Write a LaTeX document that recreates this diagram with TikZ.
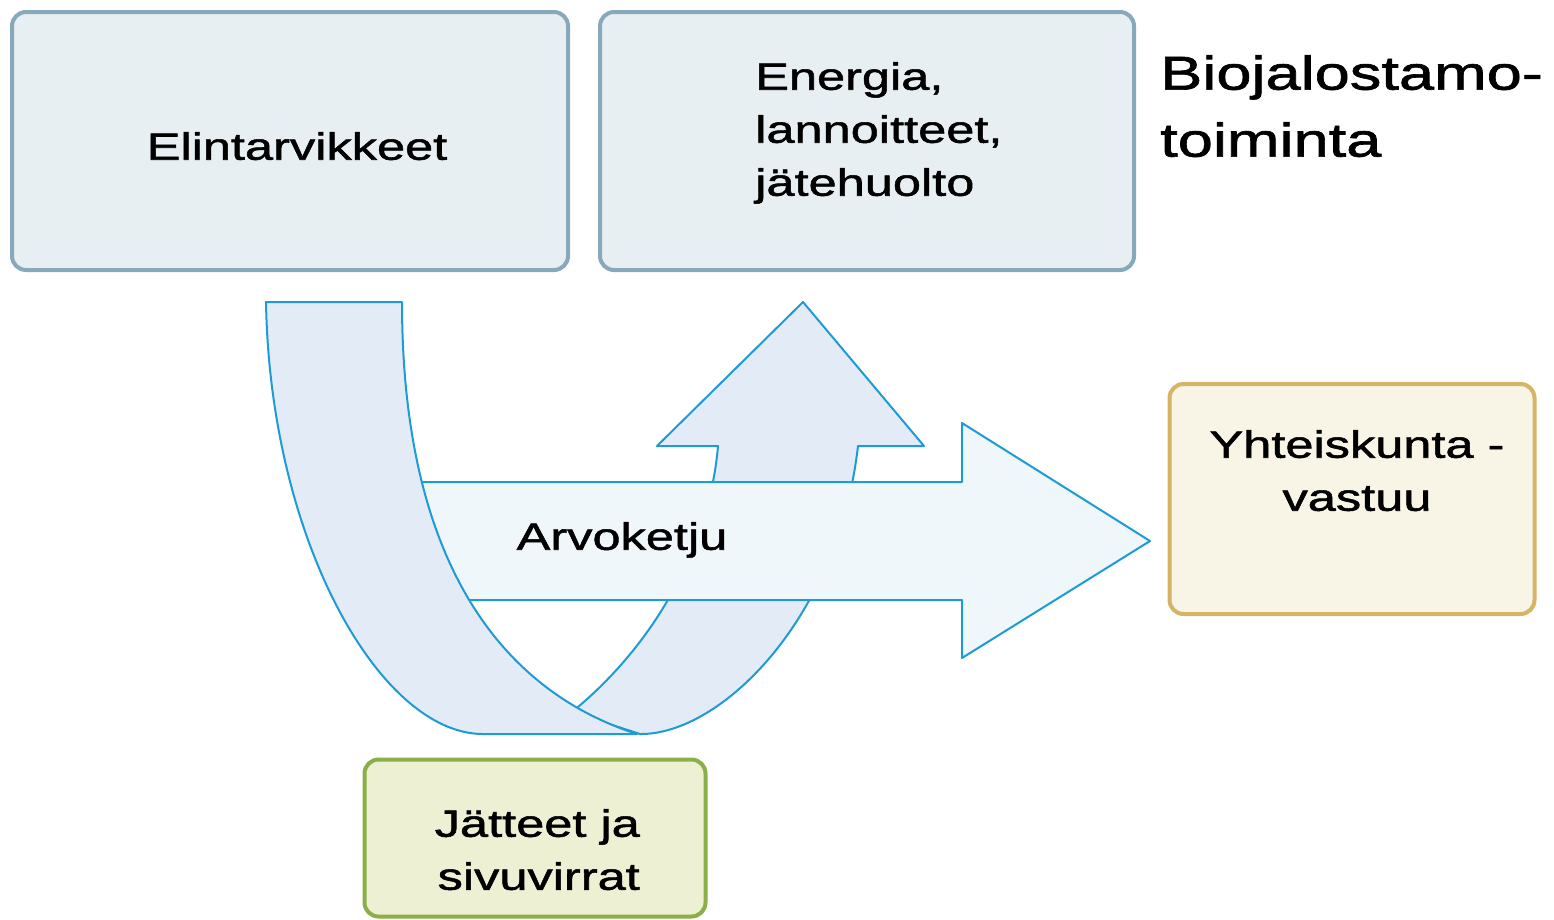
\documentclass[tikz,border=0pt]{standalone}
\usepackage{fontspec}
\setmainfont{Liberation Sans}[FakeStretch=1.33, FakeBold=1.4]

\definecolor{bandline}{HTML}{1C9BD7}
\definecolor{loopfill}{HTML}{E3ECF6}
\definecolor{chainfill}{HTML}{EFF7FB}
\definecolor{boxfill}{HTML}{E7EFF3}
\definecolor{boxline}{HTML}{88A9BB}
\definecolor{dutyfill}{HTML}{F8F5E6}
\definecolor{dutyline}{HTML}{D5B466}
\definecolor{wastefill}{HTML}{EDF0D3}
\definecolor{wasteline}{HTML}{8AAE48}

\begin{document}
\begin{tikzpicture}[x=1pt,y=-1pt]
   \tikzstyle{every node}=[font=\fontsize{38}{53}\selectfont, inner sep=0pt]
   \tikzstyle{box}=[draw, rounded corners=14pt, line width=4pt]
   \tikzstyle{band}=[draw=bandline, line width=2pt, line join=round]

\useasboundingbox (0,0) rectangle (1554,919);

% rising half of the loop
\path[band, fill=loopfill] (572,712) .. controls (660,640) and (710,540) .. (718,446)
    -- (657,446) -- (803,302) -- (924,446) -- (858,446)
    .. controls (838,620) and (720,735) .. (640,734) -- cycle;

% value chain
\path[band, fill=chainfill] (380,482) -- (962,482) -- (962,423) -- (1150,541)
    -- (962,658) -- (962,600) -- (380,600) -- cycle;

% falling half of the loop
\path[band, fill=loopfill] (266,302) -- (402,302) .. controls (402,560) and (500,690) .. (637,734)
    -- (483,734) .. controls (380,734) and (270,540) .. (266,302) -- cycle;

\node[anchor=north] (chain) at (622,522) {Arvoketju};

\node[box, fill=boxfill, draw=boxline, minimum width=556pt, minimum height=258pt] (food) at (290,141) {};
\node[box, fill=boxfill, draw=boxline, minimum width=534pt, minimum height=258pt] (energy) at (867,141) {};
\node[box, fill=dutyfill, draw=dutyline, minimum width=365pt, minimum height=230pt] (duty) at (1352,499) {};
\node[box, fill=wastefill, draw=wasteline, minimum width=341pt, minimum height=157pt] (waste) at (535,838) {};

\node[anchor=north] (foodtext) at (297,132) {Elintarvikkeet};
\node[anchor=north west, align=left] (energytext) at (755,62) {Energia,\\lannoitteet,\\jätehuolto};
\node[anchor=north, align=center] (dutytext) at (1357,430) {Yhteiskunta -\\vastuu};
\node[anchor=north east, align=right] (wastetext) at (640,809) {Jätteet ja\\sivuvirrat};

\node[anchor=north west, align=left, font=\fontsize{47.5}{67}\selectfont] (title) at (1160,55) {Biojalostamo-\\toiminta};

\end{tikzpicture}
\end{document}
